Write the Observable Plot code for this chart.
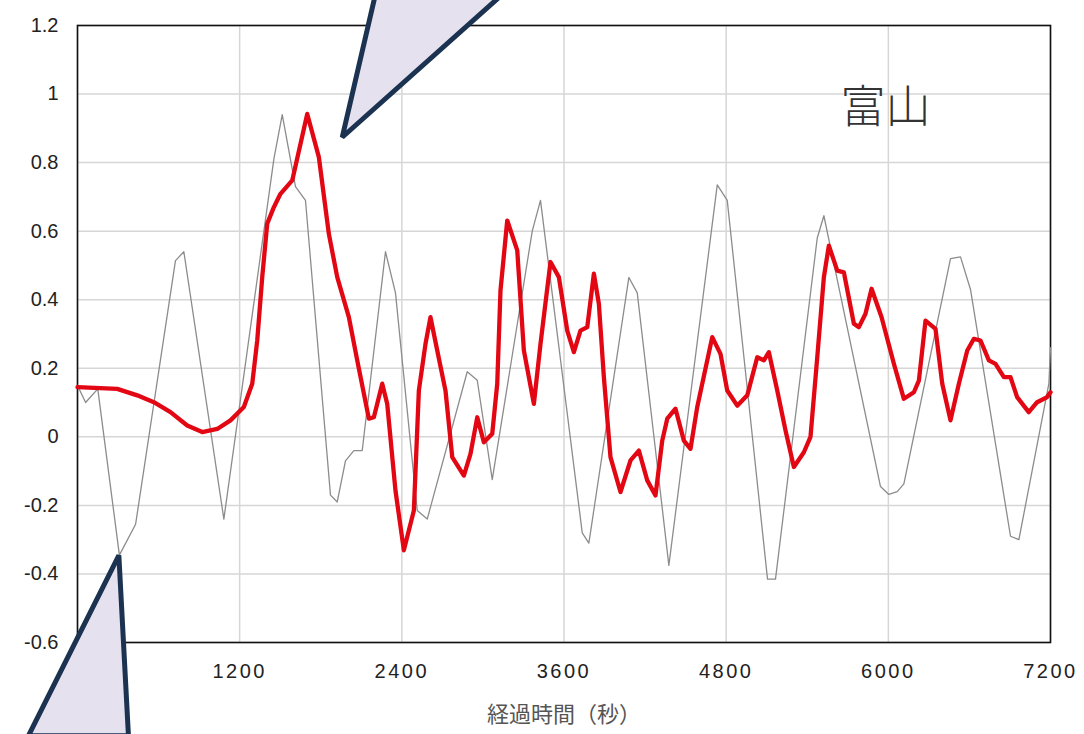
<!DOCTYPE html>
<html>
<head>
<meta charset="utf-8">
<script src="https://cdn.jsdelivr.net/npm/d3@7"></script>
<script src="https://cdn.jsdelivr.net/npm/@observablehq/plot@0.6"></script>
<style>
  html, body { margin: 0; padding: 0; background: #fff; }
  #chart svg { display: block; }
</style>
</head>
<body>
<div id="chart"></div>
<script>
// ---- data ----
const title = "富山";
const xLabel = "経過時間（秒）";
const xTicks = [0, 1200, 2400, 3600, 4800, 6000, 7200];
const yTicks = [-0.6, -0.4, -0.2, 0, 0.2, 0.4, 0.6, 0.8, 1, 1.2];

// thin gray series
const grayT = [0, 60, 150, 310, 430, 725, 787, 1083, 1453, 1515, 1613, 1687, 1872, 1922, 1983, 2045, 2107, 2279, 2353, 2514, 2588, 2884, 2958, 3069, 3365, 3426, 3735, 3784, 4080, 4142, 4376, 4734, 4808, 5106, 5165, 5474, 5523, 5942, 6004, 6066, 6115, 6460, 6534, 6608, 6904, 6966, 7188, 7200];
const grayV = [0.15, 0.10, 0.14, -0.345, -0.255, 0.514, 0.54, -0.24, 0.81, 0.94, 0.73, 0.69, -0.17, -0.19, -0.07, -0.04, -0.04, 0.54, 0.42, -0.215, -0.24, 0.19, 0.165, -0.125, 0.60, 0.69, -0.28, -0.31, 0.465, 0.42, -0.375, 0.735, 0.69, -0.415, -0.415, 0.58, 0.645, -0.145, -0.168, -0.16, -0.137, 0.52, 0.525, 0.43, -0.29, -0.30, 0.155, 0.26];

// thick red series
const redT = [0, 294, 442, 565, 688, 812, 923, 1034, 1132, 1231, 1293, 1330, 1367, 1404, 1453, 1502, 1589, 1700, 1786, 1860, 1922, 2008, 2070, 2156, 2193, 2255, 2292, 2353, 2415, 2489, 2526, 2575, 2612, 2662, 2723, 2773, 2859, 2908, 2958, 3007, 3069, 3106, 3130, 3180, 3254, 3303, 3377, 3426, 3500, 3562, 3624, 3673, 3722, 3772, 3821, 3858, 3895, 3944, 4018, 4092, 4154, 4216, 4277, 4327, 4364, 4425, 4487, 4536, 4586, 4697, 4758, 4808, 4882, 4956, 5030, 5079, 5116, 5178, 5239, 5301, 5375, 5424, 5474, 5523, 5560, 5622, 5671, 5745, 5782, 5831, 5876, 5950, 6041, 6115, 6189, 6226, 6275, 6349, 6399, 6460, 6522, 6584, 6633, 6682, 6744, 6793, 6855, 6904, 6953, 7039, 7101, 7175, 7200];
const redV = [0.145, 0.14, 0.121, 0.101, 0.072, 0.033, 0.014, 0.023, 0.048, 0.087, 0.155, 0.281, 0.466, 0.622, 0.67, 0.709, 0.748, 0.942, 0.816, 0.592, 0.466, 0.349, 0.223, 0.053, 0.057, 0.155, 0.096, -0.157, -0.331, -0.215, 0.135, 0.271, 0.349, 0.252, 0.135, -0.059, -0.113, -0.05, 0.057, -0.016, 0.009, 0.155, 0.427, 0.631, 0.544, 0.252, 0.096, 0.271, 0.51, 0.466, 0.31, 0.247, 0.31, 0.32, 0.476, 0.388, 0.174, -0.059, -0.161, -0.069, -0.04, -0.127, -0.171, -0.011, 0.053, 0.082, -0.011, -0.035, 0.087, 0.291, 0.242, 0.135, 0.091, 0.121, 0.232, 0.223, 0.247, 0.135, 0.019, -0.088, -0.045, 0.0, 0.232, 0.466, 0.558, 0.485, 0.48, 0.33, 0.32, 0.359, 0.432, 0.349, 0.213, 0.111, 0.13, 0.164, 0.339, 0.315, 0.155, 0.048, 0.155, 0.252, 0.286, 0.281, 0.223, 0.213, 0.174, 0.174, 0.116, 0.072, 0.101, 0.116, 0.13];

// callout pointer triangles (data coordinates)
const calloutId = ["top", "top", "top", "top", "bottom", "bottom", "bottom", "bottom"];
const calloutT  = [2210, 1959, 3170, 2210, -363, 306, 377, -363];
const calloutV  = [1.30, 0.874, 1.30, 1.30, -0.872, -0.346, -0.872, -0.872];

// ---- build tables ----
const gray = grayT.map((t, i) => ({t, v: grayV[i]}));
const red = redT.map((t, i) => ({t, v: redV[i]}));
const callouts = calloutT.map((t, i) => ({id: calloutId[i], t, v: calloutV[i]}));

const chart = Plot.plot({
  width: 1084,
  height: 734,
  marginLeft: 77,
  marginRight: 34,
  marginTop: 25,
  marginBottom: 92,
  style: {fontFamily: "Liberation Sans, Arial, sans-serif", fontSize: "20px", color: "#222", background: "#fff"},
  x: {domain: [0, 7200], label: null},
  y: {domain: [-0.6, 1.2], label: null},
  marks: [
    Plot.gridX(xTicks, {stroke: "#d6d6d6", strokeOpacity: 1, strokeWidth: 1.5}),
    Plot.gridY(yTicks, {stroke: "#d6d6d6", strokeOpacity: 1, strokeWidth: 1.5}),
    Plot.axisX(xTicks, {tickSize: 0, tickPadding: 21, label: null, fontSize: 20, fill: "#222", tickFormat: d => String(d)}),
    Plot.axisY(yTicks, {tickSize: 0, tickPadding: 19, label: null, fontSize: 20, fill: "#222", tickFormat: d => String(d)}),
    Plot.frame({stroke: "#111", strokeWidth: 1.6}),
    Plot.line(gray, {x: "t", y: "v", stroke: "#8c8c8c", strokeWidth: 1.3}),
    Plot.line(red, {x: "t", y: "v", stroke: "#e30613", strokeWidth: 4.3, strokeLinejoin: "round"}),
    Plot.text([title], {frameAnchor: "top-right", dx: -165, dy: 66, text: d => d, fontSize: 45, fill: "#333", fontFamily: "Noto Sans CJK JP", fontWeight: 300, textAnchor: "middle"}),
    Plot.text([xLabel], {frameAnchor: "bottom", dy: 79, text: d => d, fontSize: 22, fill: "#555", fontFamily: "Noto Sans CJK JP", textAnchor: "middle"}),
    Plot.line(callouts, {x: "t", y: "v", z: "id", fill: "#e6e1ee", stroke: "#1b3350", strokeWidth: 5, strokeLinejoin: "miter", curve: "linear-closed"})
  ]
});
document.getElementById("chart").appendChild(chart);
// widen x tick label letter spacing as in the reference
d3.select(chart).selectAll("g[aria-label='x-axis tick label'] text").style("letter-spacing", "2.5px");
</script>
</body>
</html>
